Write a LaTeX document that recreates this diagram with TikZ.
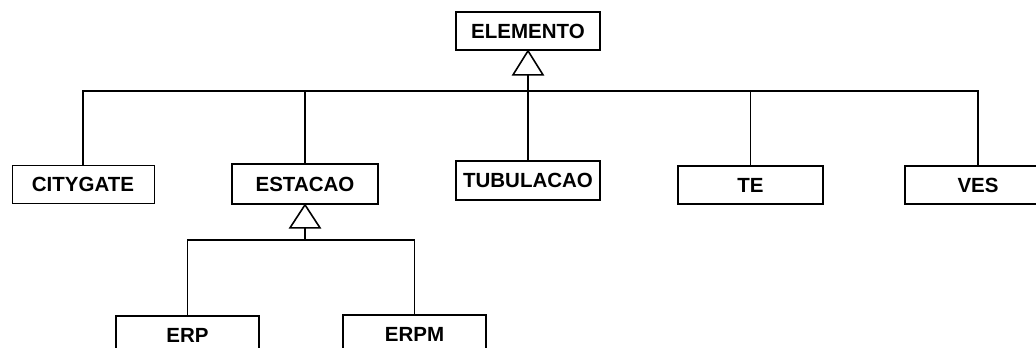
\documentclass[tikz,border=0pt]{standalone}
\usepackage{fontspec}
\setmainfont{Liberation Sans}
\begin{document}
\begin{tikzpicture}[x=1pt,y=-1pt,
  cls/.style={draw=black,line width=1.7pt,fill=white,inner sep=0pt,
    minimum width=#1,minimum height=38pt,
    font=\fontsize{20.5}{24}\selectfont\bfseries},
  cls/.default=144pt,
  conn/.style={draw=black,line width=1.2pt},
  gen/.style={draw=black,line width=1.6pt,fill=white,line join=miter}]
\clip (0,0) rectangle (1036,348);
\fill[white] (0,0) rectangle (1036,348);
% classes
\node[cls=144pt] (elem) at (528,31) {ELEMENTO};
\node[cls=142pt,line width=1pt] (city) at (83,184) {CITYGATE};
\node[cls=146pt,minimum height=40pt] (est) at (305,184) {ESTACAO};
\node[cls=144pt,minimum height=39pt] (tub) at (528,180.5) {TUBULACAO};
\node[cls=145pt] (te) at (750.5,185) {TE};
\node[cls=146pt] (ves) at (978,185) {VES};
\node[cls=143pt,minimum height=39pt] (erp) at (187.5,335.5) {ERP};
\node[cls=143pt,minimum height=39pt] (erpm) at (414.5,334.5) {ERPM};
% generalization from ELEMENTO
\coordinate (b1) at (528,91);
\coordinate (t1) at (528,74);
\draw[conn] (t1) -- (b1);
\draw[conn] (city.north) |- (b1);
\draw[conn] (b1) -| (ves.north);
\draw[conn] (est.north) -- (est.north |- b1);
\draw[conn] (tub.north) -- (b1);
\draw[conn] (te.north) -- (te.north |- b1);
\draw[gen] (elem.south) -- ++(-15,24) -- ++(30,0) -- cycle;
% generalization from ESTACAO
\coordinate (b2) at (305,240);
\coordinate (t2) at (305,227);
\draw[conn] (t2) -- (b2);
\draw[conn] (erp.north) |- (b2);
\draw[conn] (b2) -| (erpm.north);
\draw[gen] (est.south) -- ++(-15,23) -- ++(30,0) -- cycle;
\end{tikzpicture}
\end{document}
